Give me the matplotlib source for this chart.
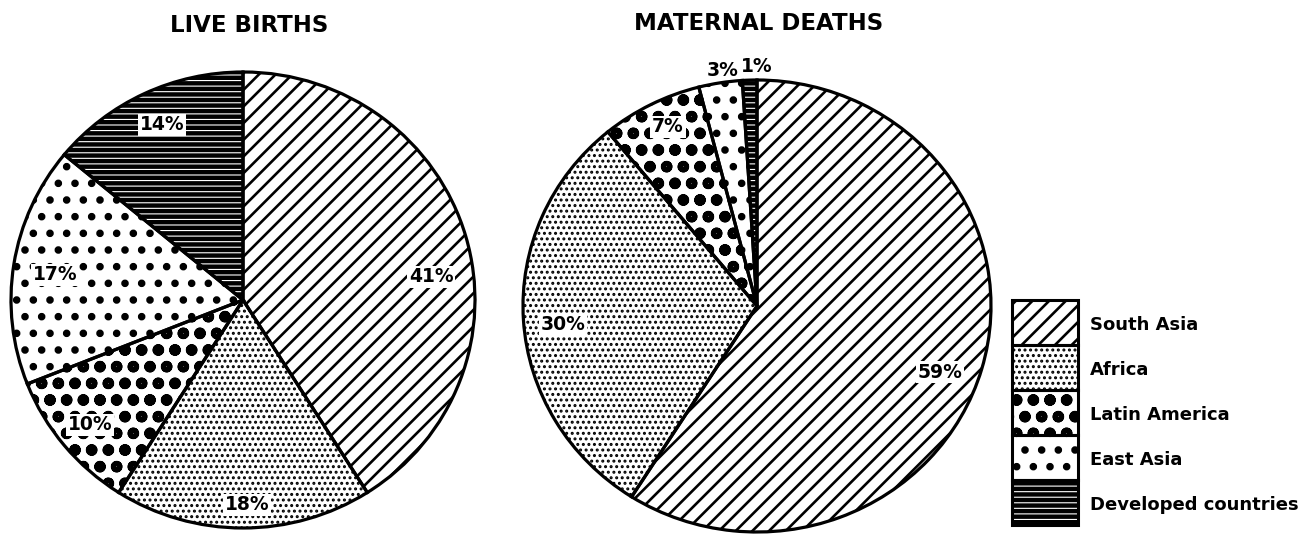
import matplotlib.pyplot as plt
from matplotlib.patches import Wedge

regions = ['South Asia', 'Africa', 'Latin America', 'East Asia', 'Developed countries']
live_births = [41, 18, 10, 17, 14]
maternal_deaths = [59, 30, 7, 3, 1]
titles = ['LIVE BIRTHS', 'MATERNAL DEATHS']

# look of each region (black and white print)
hatches = ['//', '...', 'o', '.', '---']
hatch_lw = [1.9, 1.4, 3.6, 3.0, 0.8]
faces = ['white', 'white', 'white', 'white', 'black']
hatch_cols = ['black', 'black', 'black', 'black', 'white']

W, H = 1307, 537
plt.rcParams['font.family'] = ['DejaVu Sans']
fig = plt.figure(figsize=(W / 100, H / 100), dpi=100)

PAD = 1.03


def px_axes(cx, cy, rx, ry):
    return fig.add_axes([(cx - rx * PAD) / W, 1 - (cy + ry * PAD) / H,
                         2 * rx * PAD / W, 2 * ry * PAD / H])


def style(patch, i):
    patch.set_hatch(hatches[i])
    patch.set_edgecolor(hatch_cols[i])
    patch.set_linewidth(0)
    if hasattr(patch, 'set_hatch_linewidth'):
        patch.set_hatch_linewidth(hatch_lw[i])


def draw_pie(ax, vals):
    wedges, _ = ax.pie(vals, startangle=90, counterclock=False, colors=faces)
    for i, w in enumerate(wedges):
        style(w, i)
        ax.add_patch(Wedge(w.center, w.r, w.theta1, w.theta2, fill=False,
                           ec='black', lw=2.3, clip_on=False))
    ax.set_xlim(-PAD, PAD)
    ax.set_ylim(-PAD, PAD)
    ax.set_aspect('auto')
    ax.axis('off')


ax1 = px_axes(243, 300, 232, 228)
draw_pie(ax1, live_births)
ax2 = px_axes(757, 306, 234, 226)
draw_pie(ax2, maternal_deaths)

fig.text(249 / W, 1 - 25 / H, titles[0], ha='center', va='center',
         fontsize=16.5, fontweight='bold')
fig.text(759 / W, 1 - 24 / H, titles[1], ha='center', va='center',
         fontsize=16.5, fontweight='bold')

# label spots, pixels
lb_pos = [(431, 277), (247, 505), (90, 425), (55, 275), (162, 125)]
md_pos = [(940, 372), (563, 325), (668, 127), (723, 70), (757, 67)]
for vals, pos in [(live_births, lb_pos), (maternal_deaths, md_pos)]:
    for v, (x, y) in zip(vals, pos):
        inside = y > 90
        fig.text(x / W, 1 - y / H, f'{v}%', ha='center', va='center',
                 fontsize=13.5, fontweight='bold',
                 bbox=dict(fc='white', ec='none', pad=1.2) if inside else None)

# legend column
axl = fig.add_axes([1012 / W, 1 - 525 / H, 66 / W, 225 / H])
bars = axl.bar([0.5] * len(regions), [1] * len(regions), width=1,
               bottom=list(range(len(regions))), color=faces)
for i, b in enumerate(bars):
    style(b, i)
    axl.bar(0.5, 1, width=1, bottom=i, fill=False, ec='black', lw=2.2, clip_on=False)
    axl.text(1.18, i + 0.55, regions[i], ha='left', va='center',
             fontsize=13, fontweight='bold')
axl.set_xlim(0, 1)
axl.set_ylim(len(regions), 0)
axl.axis('off')

fig.savefig('out.png', dpi=100, facecolor='white')
